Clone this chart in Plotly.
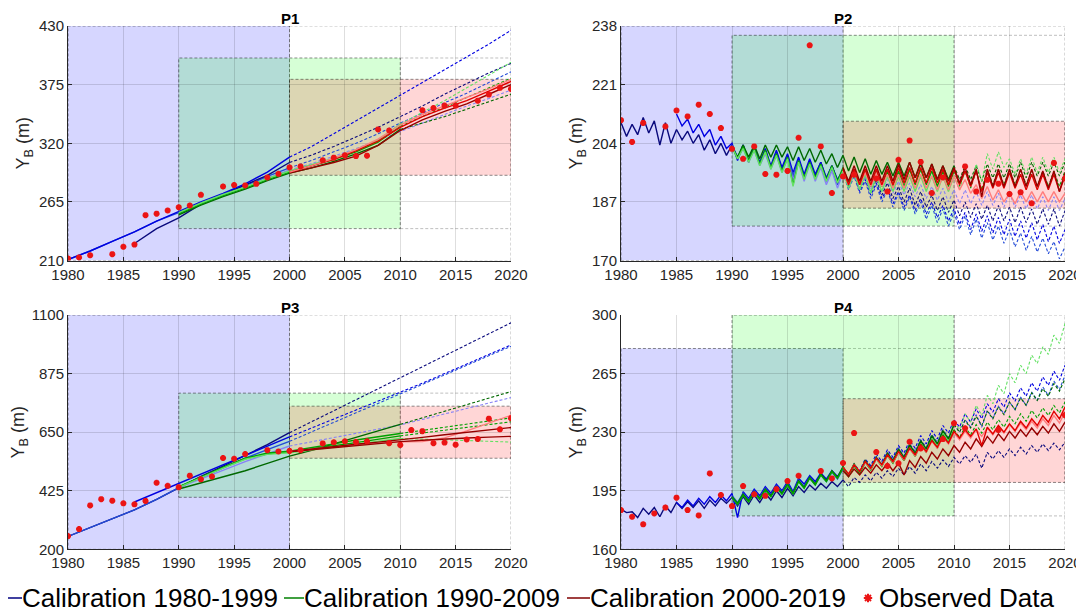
import plotly.graph_objects as go

# ---------------- grids ----------------
YEARS2 = list(range(1980, 2021, 2))                 # P1, P3 (every 2 years)
HALF_YEARS = [1980 + 0.5 * i for i in range(81)]    # P2, P4 (half-year)
N = None

# ---------------- P1 ----------------
P1_B1 = [211, 219, 228, 237, 247, 256, 265, 273, 282, 293, 307, 317, 329, 341, 353, 365, 377, 389, 401, 413, 426]
P1_B2 = [N, N, N, 226, 240, 250, 263, 272, 281, 290, 302, 309, 317, 326, 335, 345, 355, 366, 376, 386, 395]
P1_B3 = [211, 219, 228, 237, 247, 255, 264, 272, 280, 289, 297, 304, 312, 320, 329, 339, 348, 358, 367, 377, 387]
P1_B4 = [N, N, N, N, N, 254, 263, 271, 279, 287, 295, 301, 308, 315, 323, 331, 339, 347, 355, 362, 370]
P1_G1 = [N, N, N, N, N, 255, 264, 272, 279, 287, 294, 300, 306, 314, 323, 338, 349, 360, 372, 384, 396]
P1_G2 = [N, N, N, N, N, 254, 263, 271, 278, 286, 293, 299, 305, 312, 321, 336, 345, 354, 363, 372, 381]
P1_G3 = [N, N, N, N, N, 253, 262, 270, 277, 285, 292, 297, 303, 310, 318, 333, 339, 345, 352, 359, 366]
P1_R1 = [N] * 10 + [293, 299, 305, 313, 322, 335, 345, 353, 360, 369, 378]
P1_R2 = [N] * 10 + [292, 297, 302, 308, 318, 332, 342, 350, 357, 366, 375]
P1_R3 = [N] * 10 + [293, 299, 306, 314, 324, 337, 347, 355, 363, 371, 380]
P1_OBS_YR = [1980, 1981, 1982, 1984, 1985, 1986, 1987, 1988, 1989, 1990, 1991, 1992, 1994, 1995, 1996, 1997, 1998,
             1999, 2000, 2001, 2003, 2004, 2005, 2006, 2007, 2008, 2009, 2012, 2013, 2014, 2015, 2017, 2018, 2019, 2020]
P1_OBS = [212, 213, 215, 216, 223, 225, 252.6, 254, 257, 260, 261.7, 271.7, 279.5, 280.8, 280.5, 282, 288,
          291.4, 297.4, 298.3, 304, 306.5, 308.7, 308, 308.4, 333, 332, 351, 353, 355.4, 355.4, 360, 365.7, 372, 371]

# ---------------- P2 (half-year: peak, trough) ----------------
P2_B1 = [210, 206, 209.5, 206.5, 211.5, 207, 210.5, 203.5, 210, 204,
         208, 205, 207.5, 204, 206.5, 202, 205, 201, 204, 200.5,
         203.5, 199.5, 203.5, 198.5, 203, 198, 202, 197, 201.5, 196.5,
         200.5, 194, 199.5, 194, 199, 194.5, 198.5, 193.5, 197.5, 193,
         196.5, 192, 195.5, 191, 194.5, 190, 193.5, 189, 192.5, 188,
         191.5, 187, 191, 186, 190, 185.5, 189, 184.5, 188.5, 184,
         187.5, 183, 187, 182.5, 186.5, 182, 186, 181.5, 186, 181.5,
         185.5, 181, 185.5, 181, 185, 180.5, 185, 180.5, 185, 180, 184.5]
P2_B2 = [N] * 10 + [212.5, 209, 211, 207, 209.5, 206, 208, 203.5, 206, 202.5,
                    204, 199, 203.5, 199, 203, 198.5, 202.5, 197.5, 202, 197,
                    201, 195.5, 200, 195, 199.5, 195, 198.5, 194, 197.5, 193.5,
                    196, 191.5, 195, 190, 193.5, 189, 192.5, 188, 191, 186.5,
                    190, 185.5, 189, 184.5, 188, 183.5, 187, 182.5, 186, 181.5,
                    185, 180.5, 184, 179, 183.5, 178.5, 183, 178, 182.5, 177.5,
                    182, 177, 181.5, 176.5, 181, 176, 180.5, 175.5, 180, 175, 179]
P2_B3 = [N] * 20 + [203.5, 200, 203, 199, 202.5, 198, 201.5, 197, 201, 196,
                    200, 194.5, 199, 194, 198.5, 194, 197.5, 193, 196.5, 192,
                    195.5, 190.5, 194.5, 189.5, 193, 188, 192, 187, 190.5, 185.5,
                    189.5, 184.5, 188.5, 183.5, 187, 182, 186, 181, 185, 180,
                    184, 179, 183, 177.5, 182, 176.5, 181, 176, 180, 175,
                    179, 174, 178, 173, 177, 172.5, 176.5, 172, 175.5, 170.5, 174]
P2_B4 = [N] * 20 + [203, 199.5, 202.5, 198.5, 202, 197.5, 201, 196.5, 200.5, 195.5,
                    199.5, 193.5, 198.5, 193, 198, 193, 197, 192, 196, 191,
                    195.5, 191, 195, 191, 194.5, 190.5, 194, 190, 193.5, 189.5,
                    193, 189, 192.5, 188.5, 192, 188, 191.5, 187.5, 191, 187,
                    190.5, 186.5, 190.5, 186.5, 190, 186, 190, 186, 189.5, 185.5,
                    189.5, 185.5, 189, 185, 189, 185, 188.5, 184.5, 188.5, 184.5, 188]
P2_G1 = [N] * 20 + [203, 200, 203.5, 200, 203.5, 199.5, 203.5, 200, 203.5, 200,
                    203, 199, 203, 199, 202.5, 198.5, 202, 198, 201, 197,
                    200.5, 196, 200, 195.5, 199.5, 195, 199, 195, 198.5, 194.5,
                    198.5, 194.5, 198.5, 194, 198, 194, 198, 193.5, 197.5, 193.5,
                    197.5, 193.5, 197.5, 193.5, 197.5, 193, 198, 194, 198, 194,
                    198, 194, 198.5, 194, 198.5, 194.5, 198.5, 194.5, 198.5, 194.5, 198.5]
P2_G2 = [N] * 20 + [203, 199.5, 203, 199, 202.5, 198, 202, 197, 201, 196,
                    200, 192, 199, 194, 198.5, 194, 198, 193.5, 197.5, 193,
                    197, 192.5, 196.5, 192, 196.5, 191.5, 196, 191.5, 196, 191.5,
                    196, 191.5, 196.5, 192, 196.5, 192, 196, 191.5, 196, 191.5,
                    196, 191.5, 196, 191, 196, 190.5, 196.5, 192, 196.5, 192,
                    196.5, 192, 196.5, 192, 196, 191.5, 196, 191.5, 196, 191.5, 196]
P2_G3 = [N] * 20 + [203, 199.5, 202.5, 198.5, 202, 197.5, 201.5, 196.5, 200.5, 195.5,
                    199.5, 191.5, 198.5, 193.5, 198, 193.5, 197.5, 193, 197, 192.5,
                    196, 191, 195.5, 190.5, 195, 189.5, 194.5, 190, 194.5, 190,
                    194.5, 190, 194.5, 190, 194.5, 190, 194.5, 190, 194.5, 190,
                    194.5, 190.5, 196, 191.5, 198, 193, 201, 196.5, 201.5, 197,
                    199.5, 195, 199.5, 195, 200, 195.5, 200, 195.5, 200, 195.5, 199.5]
P2_R1 = [N] * 40 + [197, 193, 197.5, 193, 197.5, 193, 197.5, 193, 197.5, 193,
                    198, 193.5, 198.5, 194, 198.5, 194, 198, 193.5, 197.5, 193,
                    197, 192.5, 197, 192, 196.5, 188.5, 196.5, 191.5, 196.5, 191.5,
                    196.5, 191.5, 196.5, 191.5, 196.5, 191.5, 196, 191, 196, 190, 195.5]
P2_R2 = [N] * 40 + [196.5, 192, 196.5, 192, 196.5, 192, 196.5, 192, 196.5, 192,
                    197, 192.5, 197, 192.5, 197, 192.5, 197, 192.5, 196.5, 192,
                    196.5, 192, 196, 191.5, 196, 190, 195.5, 191, 195.5, 191,
                    195.5, 191, 195, 190.5, 195, 190.5, 195, 190.5, 195, 190, 194.5]
P2_R3 = [N] * 40 + [196, 192, 196, 192, 195.5, 191.5, 195.5, 191.5, 195, 191,
                    195, 191, 195, 191, 195, 191, 194.5, 190.5, 194.5, 190.5,
                    194.5, 190.5, 193.5, 189.5, 192, 188, 191.5, 187.5, 190.5, 187,
                    189.5, 186.5, 190, 187, 190, 187, 190, 187, 190, 187, 189.5]
P2_OBS_YR = [1980, 1981, 1982, 1984, 1985, 1986, 1987, 1988, 1989, 1990, 1991, 1992, 1993, 1994, 1995, 1996, 1997,
             1998, 1999, 2000, 2001, 2003, 2004, 2005, 2006, 2007, 2008, 2009, 2011, 2012, 2013, 2014, 2015, 2016,
             2017, 2019, 2020]
P2_OBS = [210.7, 204.4, 209.9, 208.9, 213.5, 211.8, 215.2, 212.5, 208.4, 202.4, 199.5, 203.1, 195.1, 194.9, 196,
          205.6, 232.4, 203.1, 189.6, 194.4, 194.9, 193.8, 190, 199.2, 204.8, 198.6, 189.6, 194.1, 197.3, 190,
          193.4, 192.3, 189.3, 189.8, 186.6, 198.3, 193.8]

# ---------------- P3 ----------------
P3_B1 = [250, 283, 318, 352, 392, 437, 480, 520, 560, 602, 648, 690, 732, 775, 817, 860, 902, 944, 986, 1028, 1070]
P3_B2 = [N, N, N, 382, 418, 455, 490, 525, 562, 597, 632, 666, 700, 734, 768, 802, 838, 875, 911, 948, 985]
P3_B3 = [250, 283, 318, 352, 392, 437, 476, 514, 550, 583, 615, 651, 688, 724, 760, 796, 833, 870, 907, 944, 980]
P3_B4 = [N, N, N, N, N, 437, 470, 505, 537, 567, 597, 613, 630, 646, 662, 678, 699, 720, 741, 762, 783]
P3_G1 = [N, N, N, N, N, 432, 455, 478, 502, 530, 558, 580, 605, 630, 655, 680, 705, 730, 755, 780, 806]
P3_G2 = [N, N, N, N, N, 440, 478, 515, 550, 570, 577, 590, 605, 620, 632, 645, 657, 669, 681, 693, 705]
P3_G3 = [N, N, N, N, N, 440, 478, 515, 548, 567, 574, 585, 598, 610, 622, 636, 647, 658, 668, 679, 690]
P3_G4 = [N, N, N, N, N, 438, 476, 512, 546, 565, 571, 582, 594, 605, 616, 626, 624, 621, 618, 615, 612]
P3_R1 = [N] * 10 + [576, 586, 596, 604, 612, 620, 630, 640, 650, 659, 668]
P3_R2 = [N] * 10 + [575, 583, 592, 600, 607, 614, 619, 624, 628, 631, 634]
P3_R3 = [N] * 10 + [576, 585, 594, 602, 608, 613, 614, 628, 655, 685, 715]
P3_OBS_YR = [1980, 1981, 1982, 1983, 1984, 1985, 1986, 1987, 1988, 1989, 1990, 1991, 1992, 1993, 1994, 1995, 1996,
             1998, 1999, 2000, 2001, 2003, 2004, 2005, 2006, 2007, 2009, 2010, 2011, 2012, 2013, 2014, 2015, 2016,
             2017, 2018, 2019, 2020]
P3_OBS = [251, 278, 369, 393, 387, 377, 373, 386, 456, 444, 439, 483, 469, 480, 551, 548, 566,
          581, 576, 578, 581, 607, 611, 615, 612, 615, 608, 601, 658, 654, 608, 610, 602, 622,
          624, 702, 661, 704]

# ---------------- P4 (half-year: peak, trough) ----------------
P4_B1 = [184, 182, 182.5, 179, 184.5, 181, 185, 179.5, 186, 182,
         188, 184.5, 188.5, 185, 189, 184.5, 189.5, 186, 190.5, 187.5,
         191, 186, 191.5, 187, 192.5, 188, 193.5, 189.5, 195, 191,
         196.5, 192, 197.5, 194, 198.5, 195.5, 199.5, 196.5, 200.5, 197.5,
         201.5, 197.5, 203, 200, 204.5, 201, 206, 202.5, 207, 203.5,
         208.5, 204.5, 209.5, 205.5, 211, 207, 212.5, 208.5, 213.5, 209.5,
         215, 211, 216, 212, 217, 208.5, 218, 214, 219, 215,
         220, 216, 221, 217, 222, 218, 223, 219, 223.5, 219.5, 224]
P4_B2 = [N] * 10 + [188, 185, 189.5, 186, 190.5, 187, 191.5, 188, 192.5, 189,
                    193.5, 179, 194.5, 190.5, 196, 192, 197.5, 193.5, 199, 195,
                    200.5, 194.5, 202.5, 199, 204, 200.5, 205.5, 202, 207, 203.5,
                    208.5, 204, 211, 207, 214, 210, 217, 212.5, 219.5, 215,
                    222, 217.5, 225, 220.5, 228, 223, 231, 226, 234, 229.5,
                    237.5, 233, 241, 236, 244, 238, 247, 242, 250, 245,
                    253.5, 248.5, 256.5, 251.5, 259.5, 254.5, 263, 258, 266.5, 261, 270]
P4_B3 = [N] * 20 + [192, 188, 193.5, 189.5, 195, 191, 196.5, 192.5, 198, 194,
                    199.5, 193.5, 201.5, 197.5, 203, 199, 204.5, 200.5, 206, 202,
                    208, 203.5, 210.5, 206, 213, 208.5, 215.5, 211, 218, 213.5,
                    220.5, 216, 223, 218.5, 225.5, 221, 228.5, 224, 231.5, 227,
                    234.5, 230, 237.5, 233, 240.5, 233, 243, 238.5, 245.5, 241,
                    248, 243.5, 251, 246, 254, 249, 257, 252, 260.5, 255.5, 264]
P4_G1 = [N] * 20 + [191, 187, 192.5, 188.5, 194, 190, 195.5, 191.5, 197, 193,
                    198.5, 193, 200.5, 196.5, 202.5, 198.5, 204.5, 200.5, 206.5, 202.5,
                    209, 204, 210.5, 205.5, 212.5, 208, 214.5, 210, 216.5, 212,
                    219, 214, 221.5, 216.5, 224, 219, 227, 222, 230, 225,
                    236, 231.5, 241, 236, 246, 240, 252, 247, 258, 253,
                    265, 259.5, 270, 265, 276, 271, 281, 276.5, 288, 283, 295]
P4_G2 = [N] * 20 + [191.5, 187.5, 193, 189, 194.5, 190.5, 196, 192, 197.5, 193.5,
                    199, 193.5, 201, 197, 203, 199, 205, 201, 207, 203,
                    209.5, 204.5, 211, 206, 213, 208.5, 215, 210.5, 217.5, 213,
                    220, 215, 222.5, 217.5, 225, 220, 228, 223, 231, 226,
                    234.5, 230, 237, 232.5, 239.5, 234, 242.5, 238, 245, 240.5,
                    248, 243.5, 250.5, 246, 253.5, 249, 256, 251.5, 259, 254.5, 262]
P4_G3 = [N] * 20 + [191, 187, 192.5, 188.5, 194, 190, 195.5, 191.5, 197, 193,
                    198.5, 193, 200.5, 196.5, 202.5, 198.5, 204.5, 200.5, 206.5, 202.5,
                    208.5, 203.5, 210, 205, 212, 207.5, 214, 209.5, 216, 211.5,
                    218, 213, 220.5, 215.5, 223, 218, 225.5, 220.5, 228.5, 223.5,
                    231.5, 227, 233, 228.5, 234.5, 229.5, 236, 231.5, 237.5, 233,
                    239.5, 235, 241, 236.5, 243, 238.5, 244.5, 240, 246, 241.5, 248]
P4_R1 = [N] * 40 + [207, 203.5, 208, 204.5, 209, 205.5, 210.5, 207, 211.5, 207,
                    211.5, 204.5, 213, 209, 215.5, 211.5, 218, 214, 220, 216,
                    222, 218, 224, 220, 226, 221.5, 227.5, 223.5, 229, 225,
                    230.5, 226.5, 231.5, 227.5, 232.5, 228.5, 233.5, 229.5, 235, 230.5, 236]
P4_R2 = [N] * 40 + [209, 205, 210.5, 206.5, 212.5, 208.5, 214.5, 210.5, 216.5, 212.5,
                    218.5, 214, 220.5, 216.5, 222.5, 218.5, 225, 221, 227.5, 223.5,
                    230.5, 226.5, 231.5, 227.5, 232, 222, 233, 229, 234, 230,
                    235, 231, 236.5, 232.5, 238, 234, 240, 236, 242.5, 238, 245]
P4_R3 = [N] * 40 + [209, 205, 210.5, 206.5, 212, 208, 214, 210, 216, 212,
                    218, 213.5, 220, 216, 222, 218, 224.5, 220.5, 227, 223,
                    229.5, 225.5, 230.5, 226.5, 231.5, 227.5, 232.5, 228.5, 233.5, 229.5,
                    234.5, 230.5, 235.5, 231.5, 236.5, 232.5, 238, 234, 240, 235.5, 242]
P4_OBS_YR = [1980, 1981, 1982, 1983, 1984, 1985, 1986, 1987, 1988, 1989, 1990, 1991, 1992, 1993, 1994, 1995, 1996,
             1998, 1999, 2000, 2001, 2003, 2004, 2005, 2006, 2007, 2009, 2010, 2011, 2014, 2020]
P4_OBS = [183.5, 179.5, 175, 181.5, 185, 190.9, 183.5, 180.3, 205.4, 192.5, 185.9, 197.8, 192.9, 192, 196, 200.8, 204,
          206.8, 202.4, 211.6, 229.5, 218.1, 209.8, 211.4, 224.3, 220.3, 225.9, 235.3, 232.3, 231.3, 240.2]

# ---------------- calibration windows (x0, x1, y0, y1) ----------------
P1_WIN = [(1980, 2000, 210, 430), (1990, 2010, 240, 400), (2000, 2020, 290, 380)]
P2_WIN = [(1980, 2000, 170, 238), (1990, 2010, 180, 235.3), (2000, 2020, 185.2, 210.4)]
P3_WIN = [(1980, 2000, 200, 1100), (1990, 2010, 400, 800), (2000, 2020, 550, 750)]
P4_WIN = [(1980, 2000, 160, 280), (1990, 2010, 180, 300), (2000, 2020, 200, 250)]

TICKS = {
    1: [210, 265, 320, 375, 430],
    2: [170, 187, 204, 221, 238],
    3: [200, 425, 650, 875, 1100],
    4: [160, 195, 230, 265, 300],
}
TITLES = ["P1", "P2", "P3", "P4"]
LEGEND_NAMES = ["Calibration 1980-1999", "Calibration 1990-2009", "Calibration 2000-2019", "Observed Data"]

# ---------------- styling ----------------
NAVY, BLUE, BLUE2, LBLUE = "rgb(10,10,125)", "rgb(0,0,225)", "rgb(35,75,215)", "rgb(135,130,245)"
DGREEN, GREEN, LGREEN = "rgb(0,105,0)", "rgb(0,160,0)", "rgb(100,225,100)"
DRED, RED, LRED = "rgb(150,0,0)", "rgb(225,0,0)", "rgb(255,125,125)"
OBS_RED = "rgb(235,20,20)"
FONT = "Liberation Sans, Arial, sans-serif"
TXT = "rgb(38,38,38)"

# the page body has an 8px margin, so the figure is drawn 8px in from the window corner
OFF = 8
W, H = 1084 - OFF, 615 - OFF
# target positions in window pixels
XDOM = {1: (68, 511), 2: (621, 1065), 3: (68, 511), 4: (621, 1065)}
YDOM = {1: (26, 260.6), 2: (26, 260.6), 3: (315, 549.4), 4: (315, 549.4)}


def px(xw):
    return (xw - OFF) / W


def py(yw):
    return 1 - (yw - OFF) / H


fig = go.Figure()


def ax_names(p):
    return ("x" if p == 1 else f"x{p}"), ("y" if p == 1 else f"y{p}")


def add_run(p, xs, ys, color, solid_end):
    xa, ya = ax_names(p)
    sx, sy, dx, dy = [], [], [], []
    for x, y in zip(xs, ys):
        if y is None:
            continue
        if x <= solid_end:
            sx.append(x); sy.append(y)
        if x >= solid_end:
            dx.append(x); dy.append(y)
    if len(sx) > 1:
        fig.add_trace(go.Scatter(x=sx, y=sy, mode="lines", xaxis=xa, yaxis=ya, showlegend=False,
                                 hoverinfo="skip", line=dict(color=color, width=1.4)))
    if len(dx) > 1:
        fig.add_trace(go.Scatter(x=dx, y=dy, mode="lines", xaxis=xa, yaxis=ya, showlegend=False,
                                 hoverinfo="skip", line=dict(color=color, width=1.1, dash="3px,2px")))


def add_obs(p, xs, ys):
    xa, ya = ax_names(p)
    fig.add_trace(go.Scatter(x=xs, y=ys, mode="markers", xaxis=xa, yaxis=ya, showlegend=False,
                             hoverinfo="skip",
                             marker=dict(symbol="asterisk-open", size=5, color=OBS_RED,
                                         line=dict(color=OBS_RED, width=2))))


panels = {
    1: (YEARS2, [P1_B3, P1_B2, P1_B1, P1_B4], [P1_G3, P1_G2, P1_G1], [P1_R2, P1_R1, P1_R3], P1_OBS_YR, P1_OBS, P1_WIN),
    2: (HALF_YEARS, [P2_B1, P2_B2, P2_B3, P2_B4], [P2_G1, P2_G2, P2_G3], [P2_R3, P2_R2, P2_R1], P2_OBS_YR, P2_OBS, P2_WIN),
    3: (YEARS2, [P3_B1, P3_B2, P3_B3, P3_B4], [P3_G1, P3_G2, P3_G3, P3_G4], [P3_R3, P3_R2, P3_R1], P3_OBS_YR, P3_OBS, P3_WIN),
    4: (HALF_YEARS, [P4_B1, P4_B2, P4_B3], [P4_G1, P4_G2, P4_G3], [P4_R1, P4_R3, P4_R2], P4_OBS_YR, P4_OBS, P4_WIN),
}
BCOLS = [NAVY, BLUE, BLUE2, LBLUE]
GCOLS = {1: [DGREEN, GREEN, LGREEN], 2: [DGREEN, GREEN, LGREEN], 3: [DGREEN, GREEN, GREEN, LGREEN], 4: [LGREEN, DGREEN, GREEN]}
RCOLS = {1: [DRED, RED, LRED], 2: [LRED, RED, DRED], 3: [LRED, DRED, DRED], 4: [DRED, LRED, RED]}
P1_BCOLS = [BLUE2, NAVY, BLUE, LBLUE]

shapes = []
annotations = []
layout_axes = {}
for p, (grid, blues, greens, reds, oyr, ov, wins) in panels.items():
    bcols = P1_BCOLS if p == 1 else BCOLS
    for i, s in enumerate(blues):
        add_run(p, grid, s, bcols[i], 2000)
    for i, s in enumerate(greens):
        add_run(p, grid, s, GCOLS[p][i], 2010)
    for i, s in enumerate(reds):
        add_run(p, grid, s, RCOLS[p][i], 2020)
    add_obs(p, oyr, ov)

    xa, ya = ax_names(p)
    fills = ["rgba(0,0,255,0.16)", "rgba(0,255,0,0.16)", "rgba(255,0,0,0.16)"]
    for (x0, x1, y0, y1), fc in zip(wins, fills):
        shapes.append(dict(type="rect", xref=xa, yref=ya, x0=x0, x1=x1, y0=y0, y1=y1, layer="below",
                           fillcolor=fc, line=dict(color="rgba(0,0,0,0.45)", width=1, dash="3px,2px")))
        if x1 < 2020:
            for yy in (y0, y1):
                shapes.append(dict(type="line", xref=xa, yref=ya, x0=x1, x1=2020, y0=yy, y1=yy, layer="below",
                                   line=dict(color="rgba(0,0,0,0.25)", width=1, dash="3px,2px")))
    ylo, yhi = TICKS[p][0], TICKS[p][-1]
    shapes.append(dict(type="line", xref=xa, yref=ya, x0=2020, x1=2020, y0=ylo, y1=yhi, layer="below",
                       line=dict(color="rgba(0,0,0,0.3)", width=1, dash="3px,2px")))

    x0p, x1p = XDOM[p]
    t0p, b0p = YDOM[p]
    axkey = "xaxis" if p == 1 else f"xaxis{p}"
    aykey = "yaxis" if p == 1 else f"yaxis{p}"
    layout_axes[axkey] = dict(domain=[px(x0p), px(x1p)], anchor=ya, range=[1980, 2020], automargin=False,
                              tickvals=list(range(1980, 2021, 5)), showgrid=True,
                              gridcolor="rgba(0,0,0,0.13)", gridwidth=1, zeroline=False,
                              showline=True, linecolor=TXT, linewidth=1, ticks="inside", ticklen=4,
                              tickcolor=TXT, tickfont=dict(family=FONT, size=15, color=TXT))
    layout_axes[aykey] = dict(domain=[py(b0p), py(t0p)], anchor=xa, range=[ylo, yhi], automargin=False,
                              tickvals=TICKS[p], showgrid=True, gridcolor="rgba(0,0,0,0.13)", gridwidth=1,
                              zeroline=False, showline=True, linecolor=TXT, linewidth=1, ticks="inside",
                              ticklen=4, tickcolor=TXT, tickfont=dict(family=FONT, size=15, color=TXT),
                              title=dict(text="Y<sub>B</sub> (m)", font=dict(family=FONT, size=18, color=TXT),
                                         standoff=4))
    annotations.append(dict(text="<b>" + TITLES[p - 1] + "</b>", xref="paper", yref="paper",
                            x=px((x0p + x1p) / 2), y=py(t0p - 8), showarrow=False, borderpad=0,
                            font=dict(family=FONT, size=15, color="black"), xanchor="center", yanchor="middle"))

# ---------------- manual legend (bottom row) ----------------
LEG_Y = py(598)
leg_items = [  # (line x0, line x1, text x0) in window pixels
    (3, 22, 20),
    (284, 304, 302),
    (567, 590, 588),
]
leg_cols = ["rgb(0,0,128)", "rgb(0,128,0)", "rgb(128,0,0)"]
for (lx0, lx1, tx), col, name in zip(leg_items, leg_cols, LEGEND_NAMES[:3]):
    shapes.append(dict(type="line", xref="paper", yref="paper", x0=px(lx0), x1=px(lx1), y0=LEG_Y, y1=LEG_Y,
                       line=dict(color=col, width=1.5)))
    annotations.append(dict(text=name, xref="paper", yref="paper", x=px(tx), y=LEG_Y, showarrow=False,
                            xanchor="left", yanchor="middle", font=dict(family=FONT, size=26, color="black")))
fig.add_trace(go.Scatter(x=[px(868)], y=[LEG_Y], xaxis="x5", yaxis="y5", mode="markers", showlegend=False,
                         hoverinfo="skip",
                         marker=dict(symbol="asterisk-open", size=7, color=OBS_RED,
                                     line=dict(color=OBS_RED, width=2))))
annotations.append(dict(text=LEGEND_NAMES[3], xref="paper", yref="paper", x=px(877), y=LEG_Y, showarrow=False,
                        xanchor="left", yanchor="middle", font=dict(family=FONT, size=26, color="black")))
layout_axes["xaxis5"] = dict(domain=[0, 1], range=[0, 1], visible=False, anchor="y5", automargin=False)
layout_axes["yaxis5"] = dict(domain=[0, 1], range=[0, 1], visible=False, anchor="x5", automargin=False)

fig.update_layout(
    width=W, height=H, margin=dict(l=0, r=0, t=0, b=0),
    paper_bgcolor="white", plot_bgcolor="rgba(0,0,0,0)",
    shapes=shapes, annotations=annotations,
    showlegend=False,
    **layout_axes,
)
fig.write_html("out.html")
